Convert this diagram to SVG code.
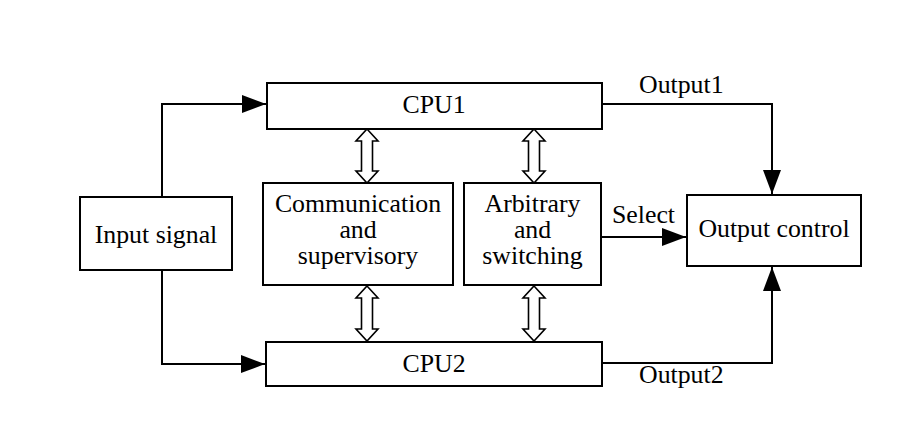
<svg xmlns="http://www.w3.org/2000/svg" width="914" height="426" viewBox="0 0 914 426">
<style>
.box{fill:#fff;stroke:#000;stroke-width:2}
.t{font-family:"Liberation Serif","Times New Roman",serif;font-size:25.8px;fill:#000;text-anchor:middle}
.tl{font-family:"Liberation Serif","Times New Roman",serif;font-size:25.8px;fill:#000}
.ln{fill:none;stroke:#000;stroke-width:2}
.dbl{fill:#fff;stroke:#000;stroke-width:1.6;stroke-linejoin:miter}
</style>
<defs>
<marker id="ah" markerUnits="userSpaceOnUse" markerWidth="24" markerHeight="18" refX="24" refY="9" orient="auto">
<path d="M0,0 L24,9 L0,18 z" fill="#000"/>
</marker>
</defs>
<rect width="914" height="426" fill="#fff"/>
<g id="connectors">
<polyline class="ln" points="162,197 162,104 266,104" marker-end="url(#ah)"/>
<polyline class="ln" points="162,270 162,364 265,364" marker-end="url(#ah)"/>
<polyline class="ln" points="602,104 772,104 772,194" marker-end="url(#ah)"/>
<polyline class="ln" points="602,363 772,363 772,267" marker-end="url(#ah)"/>
<line class="ln" x1="601" y1="237" x2="686" y2="237" marker-end="url(#ah)"/>
<path class="dbl" d="M367,129 L378,141 L372.5,141 L372.5,171 L378,171 L367,183 L356,171 L361.5,171 L361.5,141 L356,141 Z"/>
<path class="dbl" d="M534,129 L545,141 L539.5,141 L539.5,171 L545,171 L534,183 L523,171 L528.5,171 L528.5,141 L523,141 Z"/>
<path class="dbl" d="M367,286 L378,298 L372.5,298 L372.5,329 L378,329 L367,341 L356,329 L361.5,329 L361.5,298 L356,298 Z"/>
<path class="dbl" d="M534,286 L545,298 L539.5,298 L539.5,329 L545,329 L534,341 L523,329 L528.5,329 L528.5,298 L523,298 Z"/>
<text class="tl" x="639" y="93">Output1</text>
<text class="tl" x="639" y="383">Output2</text>
<text class="tl" x="612" y="223">Select</text>
</g>
<g id="cpu1">
<rect class="box" x="267" y="83" width="335" height="46"/>
<text class="t" x="434" y="113">CPU1</text>
</g>
<g id="cpu2">
<rect class="box" x="266" y="342" width="336" height="44"/>
<text class="t" x="434" y="372">CPU2</text>
</g>
<g id="input">
<rect class="box" x="80" y="197" width="152" height="73"/>
<text class="t" x="156" y="243">Input signal</text>
</g>
<g id="comm">
<rect class="box" x="263" y="183" width="190" height="102"/>
<text class="t" x="358" y="212">Communication</text>
<text class="t" x="358" y="238">and</text>
<text class="t" x="358" y="264">supervisory</text>
</g>
<g id="arb">
<rect class="box" x="464" y="183" width="137" height="102"/>
<text class="t" x="532.5" y="212">Arbitrary</text>
<text class="t" x="532.5" y="238">and</text>
<text class="t" x="532.5" y="264">switching</text>
</g>
<g id="outctl">
<rect class="box" x="687" y="195" width="174" height="71"/>
<text class="t" x="774" y="237">Output control</text>
</g>
</svg>
